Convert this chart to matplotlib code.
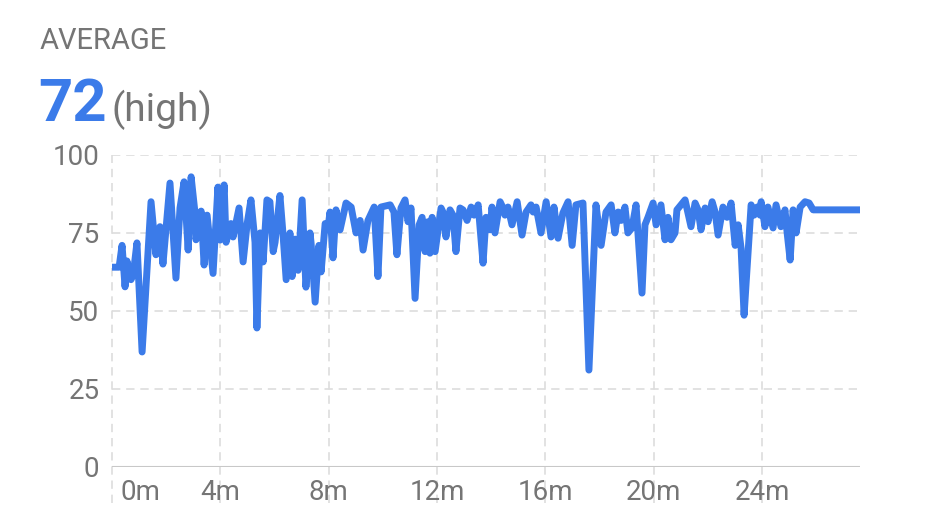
import matplotlib
matplotlib.use("Agg")
import matplotlib.pyplot as plt
from matplotlib.transforms import offset_copy

# minutes since start, and average value
times = [0, 0.26, 0.37, 0.48, 0.55, 0.70, 0.78, 0.92, 1.11, 1.44, 1.62, 1.77, 1.88,
         2.14, 2.36, 2.51, 2.66, 2.81, 2.92, 3.06, 3.10, 3.29, 3.40, 3.51, 3.73,
         3.91, 3.99, 4.14, 4.21, 4.39, 4.47, 4.69, 4.84, 4.99, 5.13, 5.28, 5.35,
         5.47, 5.58, 5.72, 5.83, 5.95, 6.02, 6.20, 6.31, 6.43, 6.57, 6.65, 6.76,
         6.87, 7.02, 7.16, 7.31, 7.35, 7.50, 7.64, 7.72, 7.87, 7.98, 8.05, 8.16,
         8.27, 8.42, 8.64, 8.83, 9.01, 9.16, 9.27, 9.45, 9.68, 9.82, 9.93, 10.27,
         10.41, 10.52, 10.67, 10.82, 10.93, 11.04, 11.19, 11.34, 11.45, 11.56,
         11.67, 11.74, 11.82, 11.93, 12.15, 12.22, 12.33, 12.48, 12.59, 12.70,
         12.85, 12.96, 13.11, 13.26, 13.37, 13.52, 13.70, 13.81, 13.96, 14.03,
         14.14, 14.33, 14.44, 14.51, 14.62, 14.77, 14.96, 15.14, 15.29, 15.47,
         15.55, 15.66, 15.84, 16.03, 16.21, 16.32, 16.47, 16.65, 16.84, 16.99,
         17.13, 17.39, 17.61, 17.87, 18.06, 18.24, 18.43, 18.57, 18.69, 18.80,
         18.94, 19.05, 19.20, 19.35, 19.57, 19.68, 19.79, 19.98, 20.09, 20.27,
         20.42, 20.53, 20.64, 20.79, 20.86, 21.16, 21.38, 21.53, 21.64, 21.75,
         21.90, 22.01, 22.16, 22.27, 22.38, 22.56, 22.71, 22.86, 23.01, 23.12,
         23.23, 23.34, 23.41, 23.60, 23.71, 23.82, 23.93, 23.97, 24.11, 24.22,
         24.41, 24.52, 24.70, 24.85, 24.93, 25.04, 25.15, 25.26, 25.41, 25.59,
         25.74, 25.89, 27.62]
values = [64, 64, 71, 57.7, 66, 60, 61.5, 71.8, 36.8, 85, 68, 77, 65,
          91, 60.5, 83, 91.4, 69.5, 93, 81.7, 72.8, 82, 64.7, 80.7, 62,
          89.7, 72.7, 90.4, 72, 78, 73.7, 83, 65.7, 78, 85.6, 72, 44.5,
          75, 65.7, 85.6, 85, 69, 72, 87, 75, 60, 75, 61, 73,
          63, 85.6, 57.6, 75, 71.8, 52.8, 71, 62.5, 78, 77, 81.7, 67,
          82.4, 76, 84.6, 83.3, 75, 79, 69.5, 79, 83.3, 61, 83.3, 84,
          81.7, 68, 83, 85.6, 78.6, 83, 54, 77.6, 80, 69,
          78.6, 68.5, 80, 69, 83, 81.7, 73.7, 82.4, 80.7, 69,
          83, 82.4, 79, 83.3, 80.7, 84, 65.3, 80, 76, 83.3,
          75, 85, 83, 80.7, 83.3, 77.6, 85, 74.3, 81.7, 84,
          81.7, 83.3, 75, 85, 73.7, 83.3, 73.3, 81.4, 85, 71,
          84, 84.6, 31, 84, 71, 81.7, 84, 75, 81.7, 79,
          83.3, 75, 76.6, 84, 55.7, 77.6, 80, 84.6, 77.6, 84,
          72.8, 80, 72.8, 75, 82.4, 85.6, 77, 84.6, 82.4, 76,
          83, 78.6, 85, 81.7, 74.3, 83.3, 80, 84.6, 71, 77.6,
          70, 48.6, 58.3, 84, 80.7, 83.3, 80.7, 85, 77, 83.3,
          76.6, 84, 77, 82.4, 75, 66.3, 82.4, 75, 83.3, 85,
          84.6, 82.4, 82.4]

x_ticks = [0, 4, 8, 12, 16, 20, 24]
x_labels = ['0m', '4m', '8m', '12m', '16m', '20m', '24m']
y_ticks = [0, 25, 50, 75, 100]

blue = '#3b7be9'
gray = '#757575'
grid_c = '#dddddd'

plt.rcParams['font.family'] = ['Roboto', 'DejaVu Sans']

fig = plt.figure(figsize=(9.36, 5.24), dpi=100)
ax = fig.add_axes([0.1197, 0.1094, 0.7991, 0.5948])

ax.plot(times, values, color=blue, lw=5, solid_joinstyle='round',
        solid_capstyle='round', zorder=3)

ax.set_xlim(0, 27.62)
ax.set_ylim(0, 100)

for s in ax.spines.values():
    s.set_visible(False)

# horizontal grid
for v in y_ticks[1:]:
    ax.axhline(v, color=grid_c, lw=1.2, dashes=(5, 3.5), zorder=1)
ax.axhline(0, color='#c8c8c8', lw=1.5, zorder=2)

# vertical grid, running below the axis
for t in x_ticks:
    ax.axvline(t, ymin=-0.116, ymax=1, color=grid_c, lw=1.2, dashes=(5, 3.5),
               clip_on=False, zorder=1)

ax.set_yticks(y_ticks)
ax.set_yticklabels([str(v) for v in y_ticks])
ax.set_xticks(x_ticks)
ax.set_xticklabels(x_labels)
ax.tick_params(axis='both', length=0, labelsize=20, labelcolor=gray)
ax.tick_params(axis='y', pad=9)
ax.tick_params(axis='x', pad=9)

first = ax.get_xticklabels()[0]
first.set_ha('left')
first.set_transform(offset_copy(first.get_transform(), fig=fig, x=8, y=0, units='dots'))

fig.text(40 / 936, 1 - 49 / 524, 'AVERAGE', fontsize=21, color=gray, va='baseline')
fig.text(38 / 936, 1 - 121 / 524, '72', fontsize=43, color=blue, fontweight='bold',
         va='baseline')
fig.text(112 / 936, 1 - 121 / 524, '(high)', fontsize=28, color=gray, va='baseline')

fig.savefig('out.png', dpi=100)
